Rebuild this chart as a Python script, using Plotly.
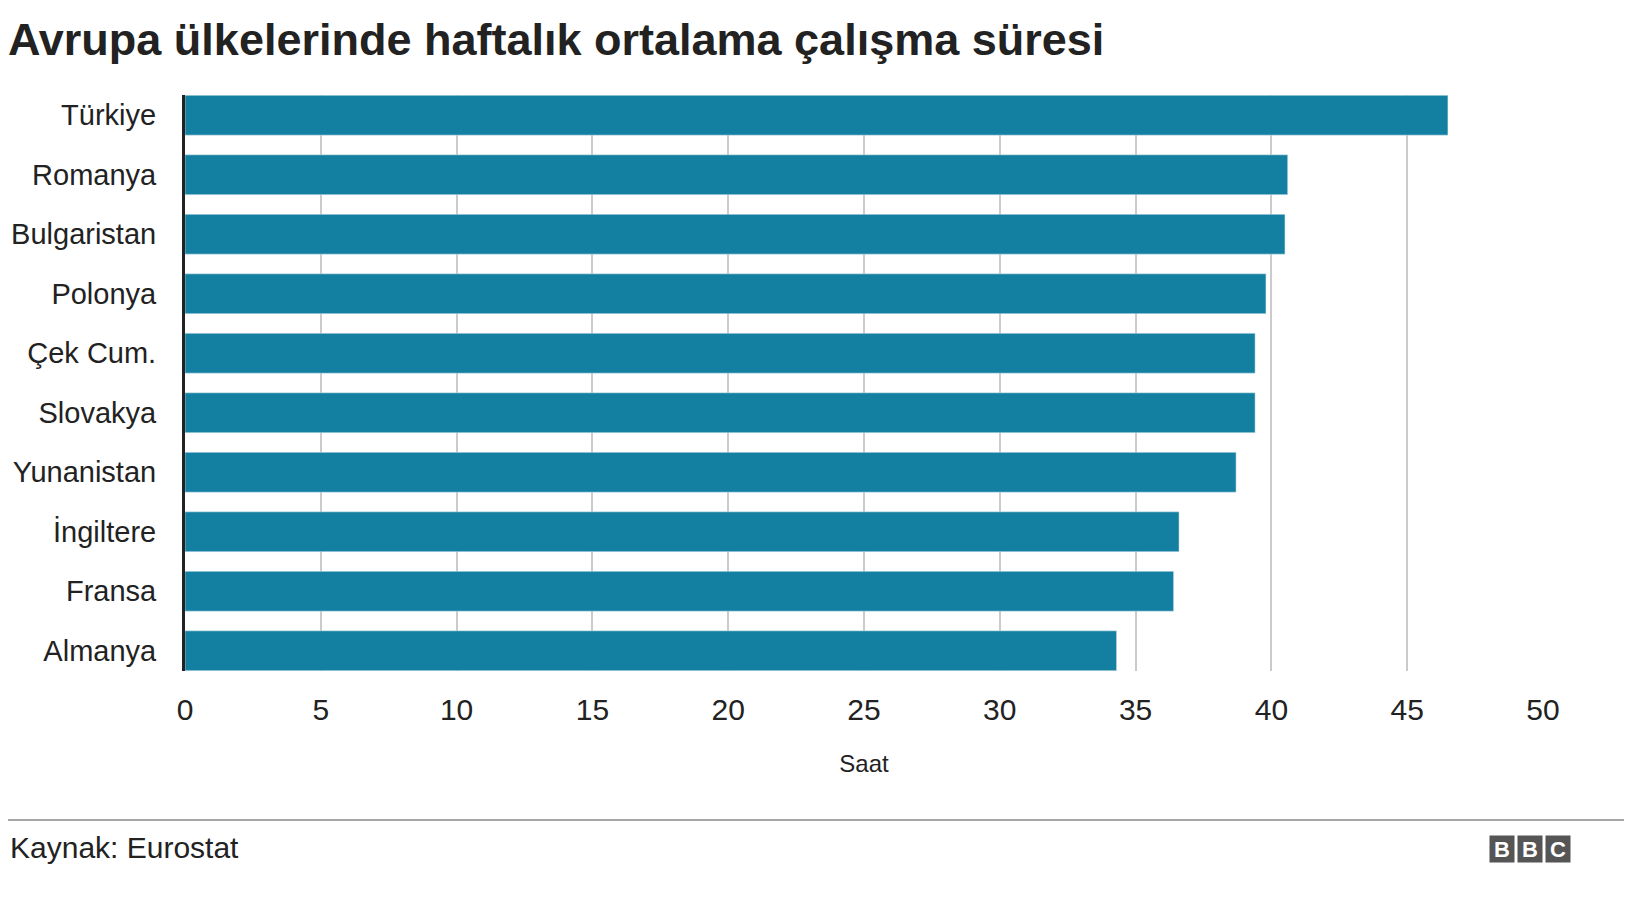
import plotly.graph_objects as go

countries = ['Türkiye', 'Romanya', 'Bulgaristan', 'Polonya', 'Çek Cum.',
             'Slovakya', 'Yunanistan', 'İngiltere', 'Fransa', 'Almanya']
hours = [46.5, 40.6, 40.5, 39.8, 39.4, 39.4, 38.7, 36.6, 36.4, 34.3]
tick_vals = [0, 5, 10, 15, 20, 25, 30, 35, 40, 45, 50]

fig = go.Figure(go.Bar(
    x=hours, y=countries, orientation='h',
    marker=dict(color='#1380A1'), hoverinfo='x+y'
))

fig.update_layout(
    width=1632, height=900,
    margin=dict(l=177, r=97, t=87, b=237),
    plot_bgcolor='white', paper_bgcolor='white',
    font=dict(family='Liberation Sans, Arial', color='#222222'),
    bargap=0.33,
    showlegend=False,
    title=dict(text='<b>Avrupa ülkelerinde haftalık ortalama çalışma süresi</b>',
               x=0.0, xref='container', xanchor='left', y=0.965, yanchor='middle',
               font=dict(size=45, color='#222222'), pad=dict(l=0)),
)

fig.update_xaxes(range=[0, 50], tickvals=tick_vals, showgrid=True,
                 gridcolor='#cbcbcb', gridwidth=1.5, zeroline=False,
                 tickfont=dict(size=30), ticks='', ticklabelstandoff=18,
                 automargin=False,
                 title=dict(text='Saat', font=dict(size=24), standoff=30))
fig.update_yaxes(range=[9.34, -0.34], showline=True, linecolor='#222222',
                 linewidth=3, tickfont=dict(size=29), ticks='',
                 ticklabelstandoff=20, automargin=False)

# footer line
fig.add_shape(type='line', xref='paper', yref='paper', x0=-177/1358, x1=1.0714,
              y0=-149/576, y1=-149/576, line=dict(color='#888888', width=1.5))
fig.add_annotation(text='Kaynak: Eurostat', xref='paper', yref='paper',
                   x=-177/1358, y=-176/576, xanchor='left', yanchor='middle',
                   showarrow=False, font=dict(size=30, color='#222222'))
# BBC logo
for i, letter in enumerate('BBC'):
    x0 = 1482 + i * 28
    fig.add_annotation(text='<b>' + letter + '</b>', xref='paper', yref='paper',
                       x=(x0 + 12 - 177) / 1358, y=-(841 - 663) / 576,
                       xanchor='center', yanchor='middle',
                       width=22, height=24, bgcolor='#555555', borderpad=1,
                       showarrow=False, font=dict(size=22, color='white'))

fig.write_html('out.html')
